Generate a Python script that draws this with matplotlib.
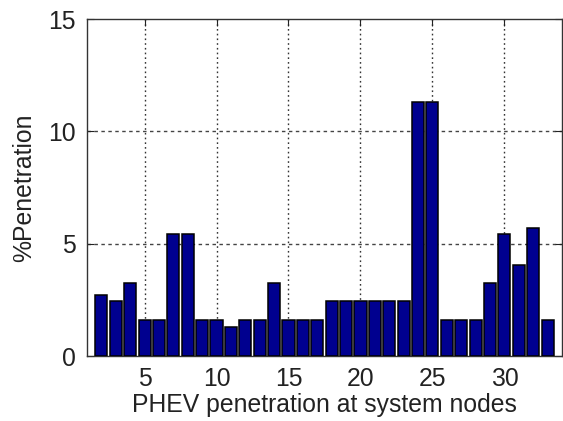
import numpy as np
import matplotlib
matplotlib.use("Agg")
import matplotlib.pyplot as plt

plt.rcParams['font.family'] = ['Liberation Sans', 'DejaVu Sans']

# nodes 2..33 of the feeder and the PHEV share at each
nodes = list(range(2, 34))
penetration = [2.74, 2.47, 3.24, 1.59, 1.59, 5.44, 5.44, 1.59, 1.59, 1.29,
               1.59, 1.59, 3.24, 1.59, 1.59, 1.59, 2.47, 2.47, 2.47, 2.47,
               2.47, 2.47, 11.33, 11.33, 1.59, 1.59, 1.59, 3.24, 5.44, 4.07,
               5.70, 1.59]
xticks = [5, 10, 15, 20, 25, 30]
yticks = [0, 5, 10, 15]

fig = plt.figure(figsize=(5.63, 4.21), dpi=100)
ax = fig.add_axes([0.1545, 0.154, 0.8437, 0.8005])

ax.bar(nodes, penetration, width=0.84, color='#00008F', edgecolor='black',
       linewidth=1.1, zorder=3)

ax.set_xlim(1, 34)
ax.set_ylim(0, 15)
ax.set_xticks(xticks)
ax.set_yticks(yticks)

# grid: dotted verticals, dashed horizontals
for x in xticks:
    ax.axvline(x, color='#333333', linestyle=(0, (1.2, 2.2)), linewidth=1.0, zorder=1)
for y in yticks[1:-1]:
    ax.axhline(y, color='#444444', linestyle=(0, (2.5, 2.5)), linewidth=1.0, zorder=1)

ax.tick_params(direction='in', length=5, width=0.8, top=True, right=True,
               labelsize=17.8, colors='#222222', pad=8)
for sp in ax.spines.values():
    sp.set_color('#333333')
    sp.set_linewidth(1.0)

ax.set_xlabel('PHEV penetration at system nodes', fontsize=17.8, color='#222222', labelpad=1)
ax.set_ylabel('%Penetration', fontsize=17.8, color='#222222', labelpad=9)

plt.savefig('out.png', dpi=100)
